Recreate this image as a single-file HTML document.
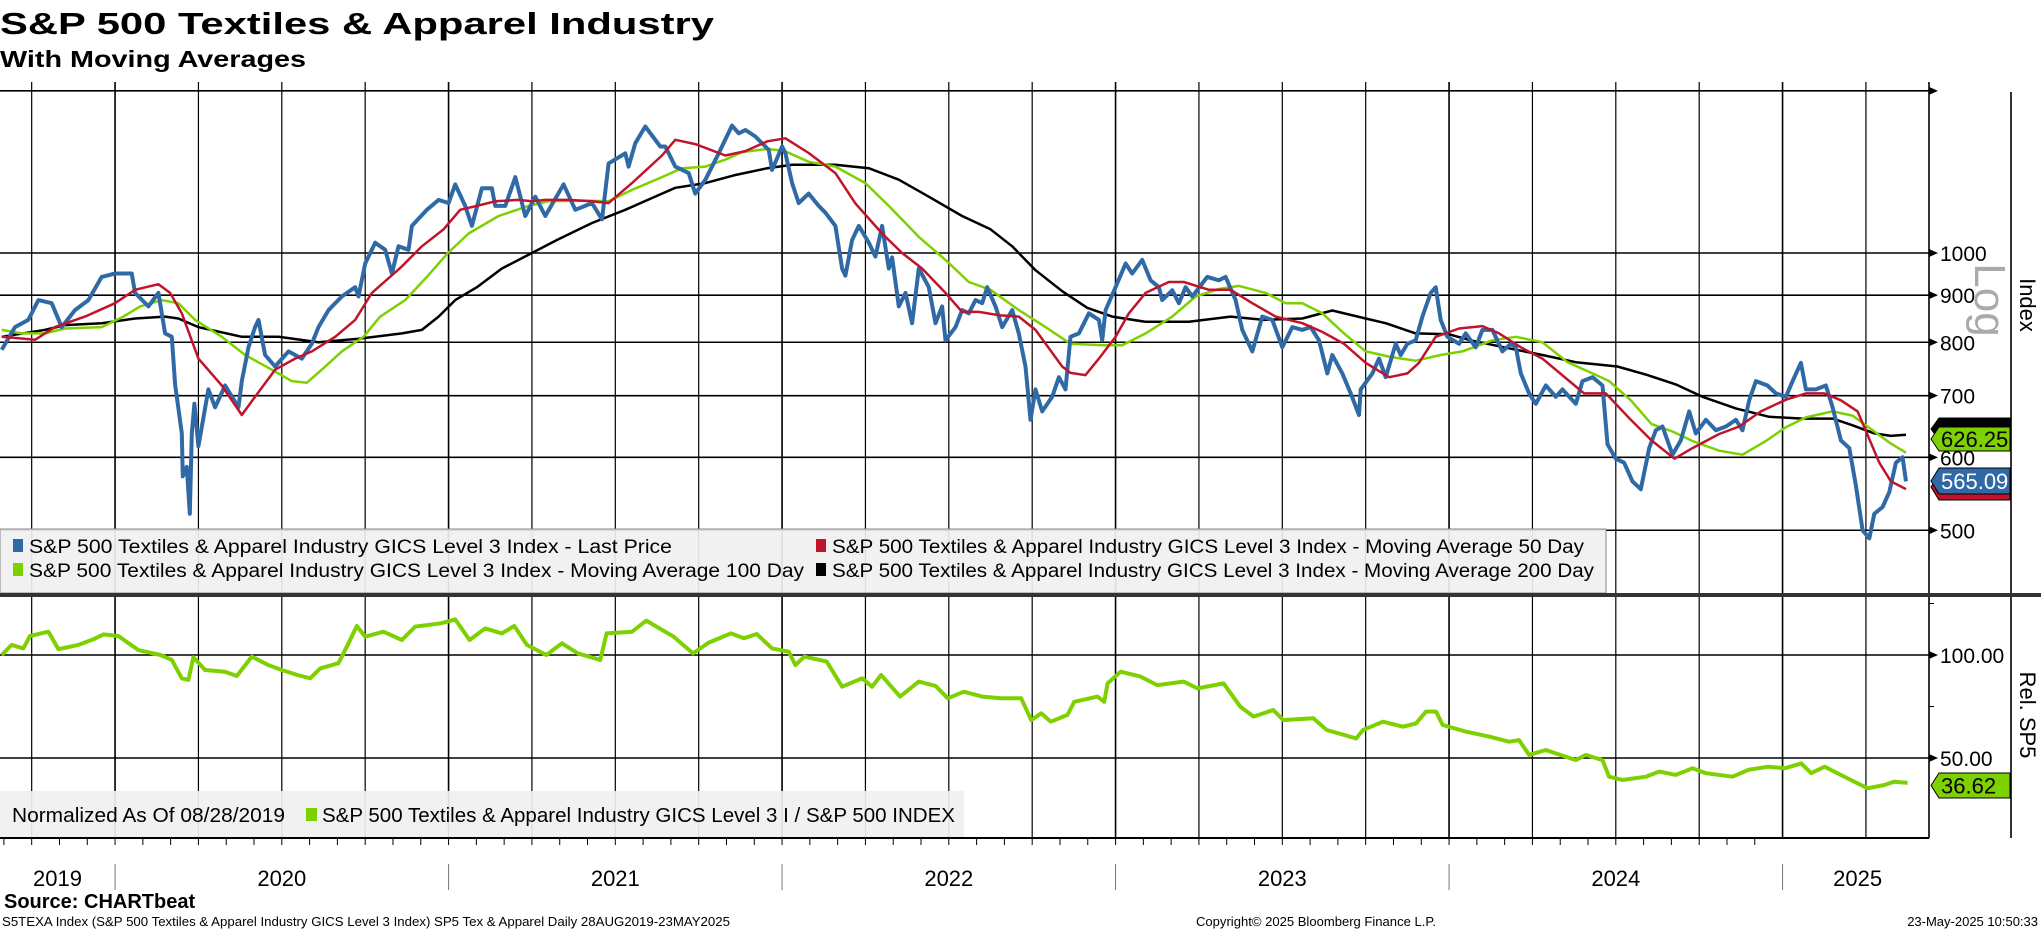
<!DOCTYPE html>
<html><head><meta charset="utf-8"><style>
html,body{margin:0;padding:0;background:#fff;}
svg{display:block;font-family:"Liberation Sans",sans-serif;}
</style></head><body>
<svg id="chart" width="2041" height="932" viewBox="0 0 2041 932" xmlns="http://www.w3.org/2000/svg">
<g id="grid"></g>
<g id="series"></g>
<g id="overlay"></g>
</svg>
<script>
// ---- data ----
const priceT=[2019.66,2019.70,2019.74,2019.77,2019.81,2019.84,2019.88,2019.92,2019.96,2020.00,2020.05,2020.06,2020.10,2020.13,2020.15,2020.17,2020.18,2020.20,2020.203,2020.215,2020.224,2020.23,2020.238,2020.25,2020.28,2020.30,2020.33,2020.37,2020.38,2020.40,2020.42,2020.43,2020.45,2020.48,2020.52,2020.56,2020.59,2020.61,2020.64,2020.68,2020.72,2020.73,2020.75,2020.78,2020.81,2020.83,2020.85,2020.88,2020.89,2020.935,2020.97,2021.00,2021.02,2021.05,2021.07,2021.10,2021.13,2021.14,2021.17,2021.20,2021.23,2021.26,2021.29,2021.345,2021.38,2021.43,2021.46,2021.48,2021.53,2021.54,2021.56,2021.59,2021.635,
2021.65,2021.68,2021.72,2021.74,2021.77,2021.81,2021.85,2021.87,2021.89,2021.92,2021.96,2021.97,2022.00,2022.01,2022.03,2022.05,2022.08,2022.11,2022.13,2022.16,2022.18,2022.19,2022.21,2022.23,2022.26,2022.28,2022.30,2022.32,2022.33,2022.35,2022.37,2022.39,2022.41,2022.44,2022.46,2022.48,2022.49,2022.52,2022.54,2022.56,2022.58,2022.60,2022.615,2022.64,2022.66,2022.69,2022.71,2022.73,2022.745,2022.76,2022.78,2022.81,2022.83,2022.85,2022.865,2022.89,2022.92,2022.95,2022.96,2022.97,2023.00,2023.03,2023.05,2023.08,2023.105,2023.13,2023.14,2023.17,2023.19,2023.21,2023.23,2023.275,2023.31,2023.33,2023.36,2023.38,2023.41,2023.44,2023.47,2023.50,2023.53,
2023.56,2023.585,2023.61,2023.635,2023.65,2023.68,2023.705,2023.73,2023.735,2023.77,2023.79,2023.81,2023.84,2023.855,2023.875,2023.90,2023.92,2023.945,2023.96,2023.975,2023.995,2024.03,2024.05,2024.08,2024.10,2024.13,2024.16,2024.185,2024.20,2024.215,2024.24,2024.26,2024.29,2024.32,2024.34,2024.38,2024.40,2024.43,2024.46,2024.475,2024.50,2024.525,2024.55,2024.575,2024.60,2024.62,2024.64,2024.67,2024.695,2024.72,2024.74,2024.77,2024.80,2024.83,2024.86,2024.88,2024.90,2024.92,2024.955,2024.98,2025.01,2025.03,2025.055,2025.07,2025.10,2025.13,2025.15,2025.175,2025.20,2025.22,2025.24,2025.26,2025.275,2025.30,2025.32,2025.34,2025.36,2025.37];
const priceV=[785,831,846,889,882,831,867,889,942,950,950,905,875,905,818,811,720,637,572,586,521,637,686,617,711,680,718,680,726,790,831,846,775,753,782,768,797,831,867,897,918,897,974,1026,1008,950,1017,1008,1070,1114,1142,1133,1187,1125,1070,1176,1176,1125,1125,1209,1097,1151,1097,1187,1114,1133,1088,1251,1283,1241,1316,1372,1305,
1305,1241,1221,1160,1201,1283,1375,1349,1360,1338,1294,1231,1305,1283,1191,1133,1160,1125,1106,1070,962,945,1033,1070,1026,991,1070,962,989,875,905,839,962,918,839,875,804,831,867,860,889,882,918,875,831,867,818,753,659,711,673,698,733,711,811,818,860,846,804,867,918,974,950,983,934,918,889,911,882,918,897,942,934,942,889,825,782,853,846,790,831,
825,831,804,740,775,740,704,667,711,740,768,733,797,775,797,804,853,905,918,846,811,797,818,790,825,825,782,797,790,740,704,686,718,698,711,686,726,733,718,620,598,592,565,554,614,642,648,604,626,673,637,659,642,648,659,642,692,726,718,704,698,726,760,711,711,718,680,626,614,559,500,490,521,530,550,592,600,565];
const ma50T=[2019.66,2019.76,2019.82,2019.91,2020.0,2020.06,2020.13,2020.165,2020.20,2020.25,2020.32,2020.38,2020.42,2020.48,2020.54,2020.59,2020.66,2020.72,2020.77,2020.86,2020.92,2020.985,2021.035,2021.085,2021.14,2021.21,2021.25,2021.29,2021.36,2021.43,2021.48,2021.55,2021.64,2021.68,2021.74,2021.83,2021.89,2021.956,2022.01,2022.08,2022.16,2022.22,2022.30,2022.36,2022.42,2022.49,2022.54,2022.59,2022.65,2022.71,2022.76,2022.84,2022.865,2022.91,2022.95,2023.0,2023.04,2023.09,2023.16,2023.205,2023.28,2023.345,2023.41,2023.48,2023.56,2023.62,2023.685,2023.75,2023.82,2023.875,2023.91,2023.96,2024.03,2024.10,2024.15,2024.215,2024.28,2024.405,2024.47,2024.545,2024.607,2024.676,2024.73,2024.81,2024.87,2024.935,2025.01,2025.07,2025.125,2025.175,2025.225,2025.29,2025.325,2025.37];
const ma50V=[811,805,831,853,882,912,925,905,860,768,718,667,698,747,768,782,811,846,905,967,1017,1061,1114,1125,1138,1142,1138,1142,1142,1138,1133,1191,1276,1327,1313,1276,1290,1322,1332,1284,1221,1132,1050,1000,962,905,863,863,856,853,825,753,741,737,768,811,860,905,930,930,912,912,882,853,839,821,797,760,733,740,760,811,828,833,818,790,768,704,704,659,626,598,614,636,648,673,693,704,704,692,673,592,565,554];
const ma100T=[2019.66,2019.72,2019.79,2019.85,2019.96,2020.025,2020.075,2020.14,2020.19,2020.24,2020.32,2020.39,2020.47,2020.53,2020.575,2020.62,2020.68,2020.745,2020.795,2020.87,2020.935,2020.998,2021.06,2021.15,2021.24,2021.30,2021.40,2021.48,2021.55,2021.64,2021.70,2021.77,2021.83,2021.88,2021.956,2022.006,2022.08,2022.16,2022.25,2022.32,2022.41,2022.49,2022.56,2022.625,2022.71,2022.79,2022.865,2022.965,2023.02,2023.09,2023.17,2023.24,2023.31,2023.37,2023.45,2023.51,2023.56,2023.62,2023.685,2023.75,2023.825,2023.90,2023.975,2024.04,2024.13,2024.20,2024.28,2024.355,2024.43,2024.48,2024.545,2024.607,2024.67,2024.73,2024.81,2024.88,2024.95,2025.01,2025.07,2025.15,2025.21,2025.275,2025.325,2025.37];
const ma100V=[825,818,818,828,831,853,875,889,882,846,811,775,747,726,723,747,782,811,853,889,942,1000,1050,1097,1125,1138,1140,1138,1171,1209,1236,1241,1263,1287,1297,1291,1256,1241,1191,1125,1041,983,930,912,867,831,797,794,794,818,853,897,914,921,905,882,882,860,818,782,771,764,775,782,804,811,800,761,740,726,692,652,640,625,610,604,625,647,663,673,666,640,621,607];
const ma200T=[2019.66,2019.79,2019.85,2019.96,2020.06,2020.15,2020.19,2020.25,2020.38,2020.49,2020.61,2020.73,2020.86,2020.92,2020.97,2021.02,2021.085,2021.16,2021.25,2021.325,2021.43,2021.53,2021.64,2021.68,2021.77,2021.855,2021.956,2022.03,2022.16,2022.26,2022.35,2022.44,2022.54,2022.625,2022.69,2022.76,2022.84,2022.915,2022.99,2023.09,2023.22,2023.345,2023.445,2023.56,2023.65,2023.75,2023.81,2023.90,2024.0,2024.065,2024.165,2024.28,2024.38,2024.505,2024.595,2024.68,2024.76,2024.86,2024.96,2025.06,2025.15,2025.21,2025.275,2025.325,2025.37];
const ma200V=[811,825,835,839,849,853,849,831,811,811,800,807,818,825,853,889,918,962,1000,1033,1078,1114,1160,1177,1191,1214,1236,1247,1247,1236,1201,1151,1097,1061,1017,958,909,872,853,842,842,853,846,849,866,849,839,818,816,804,790,775,761,753,737,720,698,678,664,661,661,650,637,633,635];
const relT=[2019.66,2019.69,2019.725,2019.745,2019.80,2019.83,2019.89,2019.935,2019.965,2020.01,2020.07,2020.136,2020.17,2020.20,2020.22,2020.235,2020.27,2020.33,2020.365,2020.41,2020.46,2020.50,2020.547,2020.585,2020.615,2020.67,2020.70,2020.725,2020.75,2020.805,2020.86,2020.90,2020.977,2021.02,2021.063,2021.11,2021.16,2021.197,2021.235,2021.293,2021.34,2021.388,2021.455,2021.474,2021.55,2021.593,2021.675,2021.733,2021.78,2021.847,2021.885,2021.924,2021.97,2022.02,2022.04,2022.067,2022.134,2022.18,2022.24,2022.27,2022.297,2022.354,2022.41,2022.46,2022.497,2022.545,2022.60,2022.656,2022.717,2022.747,2022.777,2022.806,2022.856,2022.876,2022.946,2022.966,2022.976,2023.015,2023.075,2023.125,2023.205,2023.245,2023.324,2023.374,2023.414,2023.473,2023.503,2023.593,2023.633,2023.722,2023.742,2023.802,2023.862,2023.901,2023.931,2023.961,2023.981,2024.05,2024.12,2024.18,2024.21,2024.24,2024.29,2024.38,2024.41,2024.46,2024.48,2024.52,2024.59,2024.63,2024.68,2024.73,2024.77,2024.85,2024.897,2024.957,2025.006,2025.056,2025.086,2025.126,2025.195,2025.225,2025.255,2025.305,2025.335,2025.375];
const relV=[100,104.9,103.2,109.2,111.3,102.8,104.9,107.6,110.0,109.2,102.4,100,97.6,88.7,87.9,98.9,92.7,91.9,89.8,99.2,95.1,92.7,90.3,88.7,93.5,96.0,105.7,114.1,108.9,111.3,107.3,113.8,115.4,117.3,107.3,112.9,110.5,114.1,104.9,100,105.7,100.8,97.6,110.5,111.3,116.7,108.9,100.8,106.0,110.5,108.1,110.2,103.2,101.6,95.1,99.2,96.8,84.6,88.7,84.6,90.3,79.8,87.1,85.0,79.0,82.2,79.8,79.0,79.0,68.4,71.7,67.6,70.9,77.3,79.8,77.3,86.2,91.9,89.5,85.4,87.1,83.8,86.2,74.9,70.1,73.3,68.4,69.3,63.6,59.5,63.6,67.6,65.2,66.8,72.5,72.5,66.0,62.8,60.4,57.9,58.7,51.5,53.9,49.0,51.5,49.0,40.9,39.3,40.9,43.4,41.8,45.0,42.6,40.9,44.2,45.8,45.0,47.4,42.6,45.8,40.1,37.7,35.3,36.9,38.5,37.9];
const upperTicks=[500,600,700,800,900,1000];
const upperGrid=[500,600,700,800,900,1000,1500];
const lowerTicks=[50,100];
const years=[2019,2020,2021,2022,2023,2024,2025];
const lastLabels=["626.25","565.09","36.62"];

// ---- scales ----
const X0=2019.655, PXY=333.5, RIGHT=1929;
const xS=t=>(t-X0)*PXY;
const yU=v=>253-400*Math.log(v/1000);
const yL=v=>655+(100-v)*2.06;
const NS="http://www.w3.org/2000/svg";
function mk(parent,tag,attrs,text){const e=document.createElementNS(NS,tag);for(const k in attrs)e.setAttribute(k,attrs[k]);if(text!==undefined)e.textContent=text;parent.appendChild(e);return e;}
const G=document.getElementById('grid'),S=document.getElementById('series'),O=document.getElementById('overlay');

let e;
e=mk(O,'text',{x:0,y:34,'font-size':31,'font-weight':'bold',textLength:714,lengthAdjust:'spacingAndGlyphs'},'S&P 500 Textiles & Apparel Industry');


e=mk(O,'text',{x:0,y:67,'font-size':23,'font-weight':'bold',textLength:306,lengthAdjust:'spacingAndGlyphs'},'With Moving Averages');



for(let y=2019;y<=2025;y++){for(let q=0;q<4;q++){const t=y+q*0.25;if(t<X0||t>2025.4)continue;
 e=mk(G,'line',{x1:xS(t),x2:xS(t),y1:82,y2:838,stroke:'#000','stroke-width':(q==0?1.6:1.2)});
 
 }}
for(let m=0;m<72;m++){const t=2019+m/12;if(t<X0||t>2025.45)continue;
 e=mk(G,'line',{x1:xS(t),x2:xS(t),y1:838,y2:845,stroke:'#000','stroke-width':1});
 
 }
upperGrid.forEach(v=>{e=mk(G,'line',{x1:0,x2:RIGHT,y1:yU(v),y2:yU(v),stroke:'#000','stroke-width':1.6});
 
 
 e=mk(G,'polygon',{points:`${RIGHT},${yU(v)-4} ${RIGHT+9},${yU(v)} ${RIGHT},${yU(v)+4}`,fill:'#000'});
 
 });
upperTicks.forEach(v=>{e=mk(G,'text',{x:1940,y:yU(v)+8,'font-size':21},String(v));
 
 });
lowerTicks.forEach(v=>{e=mk(G,'line',{x1:0,x2:RIGHT,y1:yL(v),y2:yL(v),stroke:'#000','stroke-width':1.6});
 
 
 e=mk(G,'polygon',{points:`${RIGHT},${yL(v)-4} ${RIGHT+9},${yL(v)} ${RIGHT},${yL(v)+4}`,fill:'#000'});
 
 
 e=mk(G,'text',{x:1940,y:yL(v)+8,'font-size':21},v.toFixed(2));
 
 });
[yL(125),yL(75)].forEach(y=>{e=mk(G,'line',{x1:RIGHT,x2:RIGHT+5,y1:y,y2:y,stroke:'#000'});
 
 });
e=mk(G,'line',{x1:RIGHT,x2:RIGHT,y1:82,y2:838,stroke:'#000','stroke-width':1.6});


e=mk(G,'line',{x1:2011,x2:2011,y1:92,y2:838,stroke:'#000','stroke-width':1.6});


e=mk(G,'line',{x1:0,x2:RIGHT,y1:838,y2:838,stroke:'#000','stroke-width':2});


e=mk(G,'text',{x:1975,y:300,'font-size':44,fill:'#aaa',transform:'rotate(90 1975 300)','text-anchor':'middle'},'Log');


e=mk(G,'text',{x:2020,y:305,'font-size':22,transform:'rotate(90 2020 305)','text-anchor':'middle'},'Index');


e=mk(G,'text',{x:2020,y:715,'font-size':22,transform:'rotate(90 2020 715)','text-anchor':'middle'},'Rel. SP5');



function line(T,V,ys,col,w,name){let d='';for(let i=0;i<T.length;i++){d+=(i?'L':'M')+xS(T[i]).toFixed(1)+','+ys(V[i]).toFixed(1);}
 const p=mk(S,'path',{d:d,fill:'none',stroke:col,'stroke-width':w,'stroke-linejoin':'round'});
 
 }
line(ma200T,ma200V,yU,'#000',2.5,'ma200-line');
line(ma100T,ma100V,yU,'#7ed100',2.5,'ma100-line');
line(priceT,priceV,yU,'#2f6aa6',4,'price-line');
line(ma50T,ma50V,yU,'#c0142c',2.5,'ma50-line');
line(relT,relV,yL,'#7ed100',4,'relative-line');

e=mk(O,'rect',{x:0,y:529,width:1606,height:64,fill:'#f0f0f0','fill-opacity':0.92,stroke:'#888','stroke-width':1});


const leg=[[13,553,'#2f6aa6','S&P 500 Textiles & Apparel Industry GICS Level 3 Index - Last Price',643],[816,553,'#c0142c','S&P 500 Textiles & Apparel Industry GICS Level 3 Index - Moving Average 50 Day',752],[13,577,'#7ed100','S&P 500 Textiles & Apparel Industry GICS Level 3 Index - Moving Average 100 Day',775],[816,577,'#000','S&P 500 Textiles & Apparel Industry GICS Level 3 Index - Moving Average 200 Day',762]];
leg.forEach(l=>{e=mk(O,'rect',{x:l[0],y:l[1]-14,width:10,height:13,fill:l[2]});
 
 
 e=mk(O,'text',{x:l[0]+16,y:l[1],'font-size':19,textLength:l[4],lengthAdjust:'spacingAndGlyphs'},l[3]);
 
 });
e=mk(O,'rect',{x:0,y:593,width:2041,height:4,fill:'#333'});



e=mk(O,'rect',{x:0,y:791,width:964,height:46,fill:'#f0f0f0','fill-opacity':0.92});


e=mk(O,'text',{x:12,y:822,'font-size':20,textLength:273,lengthAdjust:'spacingAndGlyphs'},'Normalized As Of 08/28/2019');


e=mk(O,'rect',{x:306,y:808,width:11,height:13,fill:'#7ed100'});


e=mk(O,'text',{x:322,y:822,'font-size':20,textLength:633,lengthAdjust:'spacingAndGlyphs'},'S&P 500 Textiles & Apparel Industry GICS Level 3 I / S&P 500 INDEX');



function tag(y1,y2,fill,tc,txt,name,fs){const m=(y1+y2)/2;
 const p=mk(O,'polygon',{points:`${RIGHT+2},${m} ${RIGHT+10},${y1} 2010,${y1} 2010,${y2} ${RIGHT+10},${y2}`,fill:fill,stroke:'#000','stroke-width':1});
 
 
 if(txt){const t=mk(O,'text',{x:1941,y:m+8,'font-size':fs,fill:tc},txt);
  
  }}
tag(418,440,'#000','#fff','','ma200-last',22);
tag(427,451,'#7ed100','#000',lastLabels[0],'ma100-last',22);
tag(474,500,'#c0142c','#fff','','ma50-last',22);
tag(468,494,'#2f6aa6','#fff',lastLabels[1],'price-last',22);
tag(773,798,'#7ed100','#000',lastLabels[2],'rel-last',22);

years.forEach(y=>{const a=Math.max(y,X0),b=Math.min(y+1,2025.45);const cx=(xS(a)+xS(b))/2;
 e=mk(O,'text',{x:cx,y:886,'font-size':22,'text-anchor':'middle'},String(y));
 
 
 if(y>2019){e=mk(O,'line',{x1:xS(y),x2:xS(y),y1:864,y2:890,stroke:'#777'});
  
  }});

e=mk(O,'text',{x:4,y:908,'font-size':20,'font-weight':'bold'},'Source: CHARTbeat');


e=mk(O,'text',{x:2,y:926,'font-size':13,textLength:728,lengthAdjust:'spacingAndGlyphs'},'S5TEXA Index (S&P 500 Textiles & Apparel Industry GICS Level 3 Index) SP5 Tex & Apparel  Daily 28AUG2019-23MAY2025');


e=mk(O,'text',{x:1196,y:926,'font-size':13,textLength:240,lengthAdjust:'spacingAndGlyphs'},'Copyright© 2025 Bloomberg Finance L.P.');


e=mk(O,'text',{x:2038,y:926,'font-size':13,'text-anchor':'end'},'23-May-2025 10:50:33');


</script>
</body></html>
